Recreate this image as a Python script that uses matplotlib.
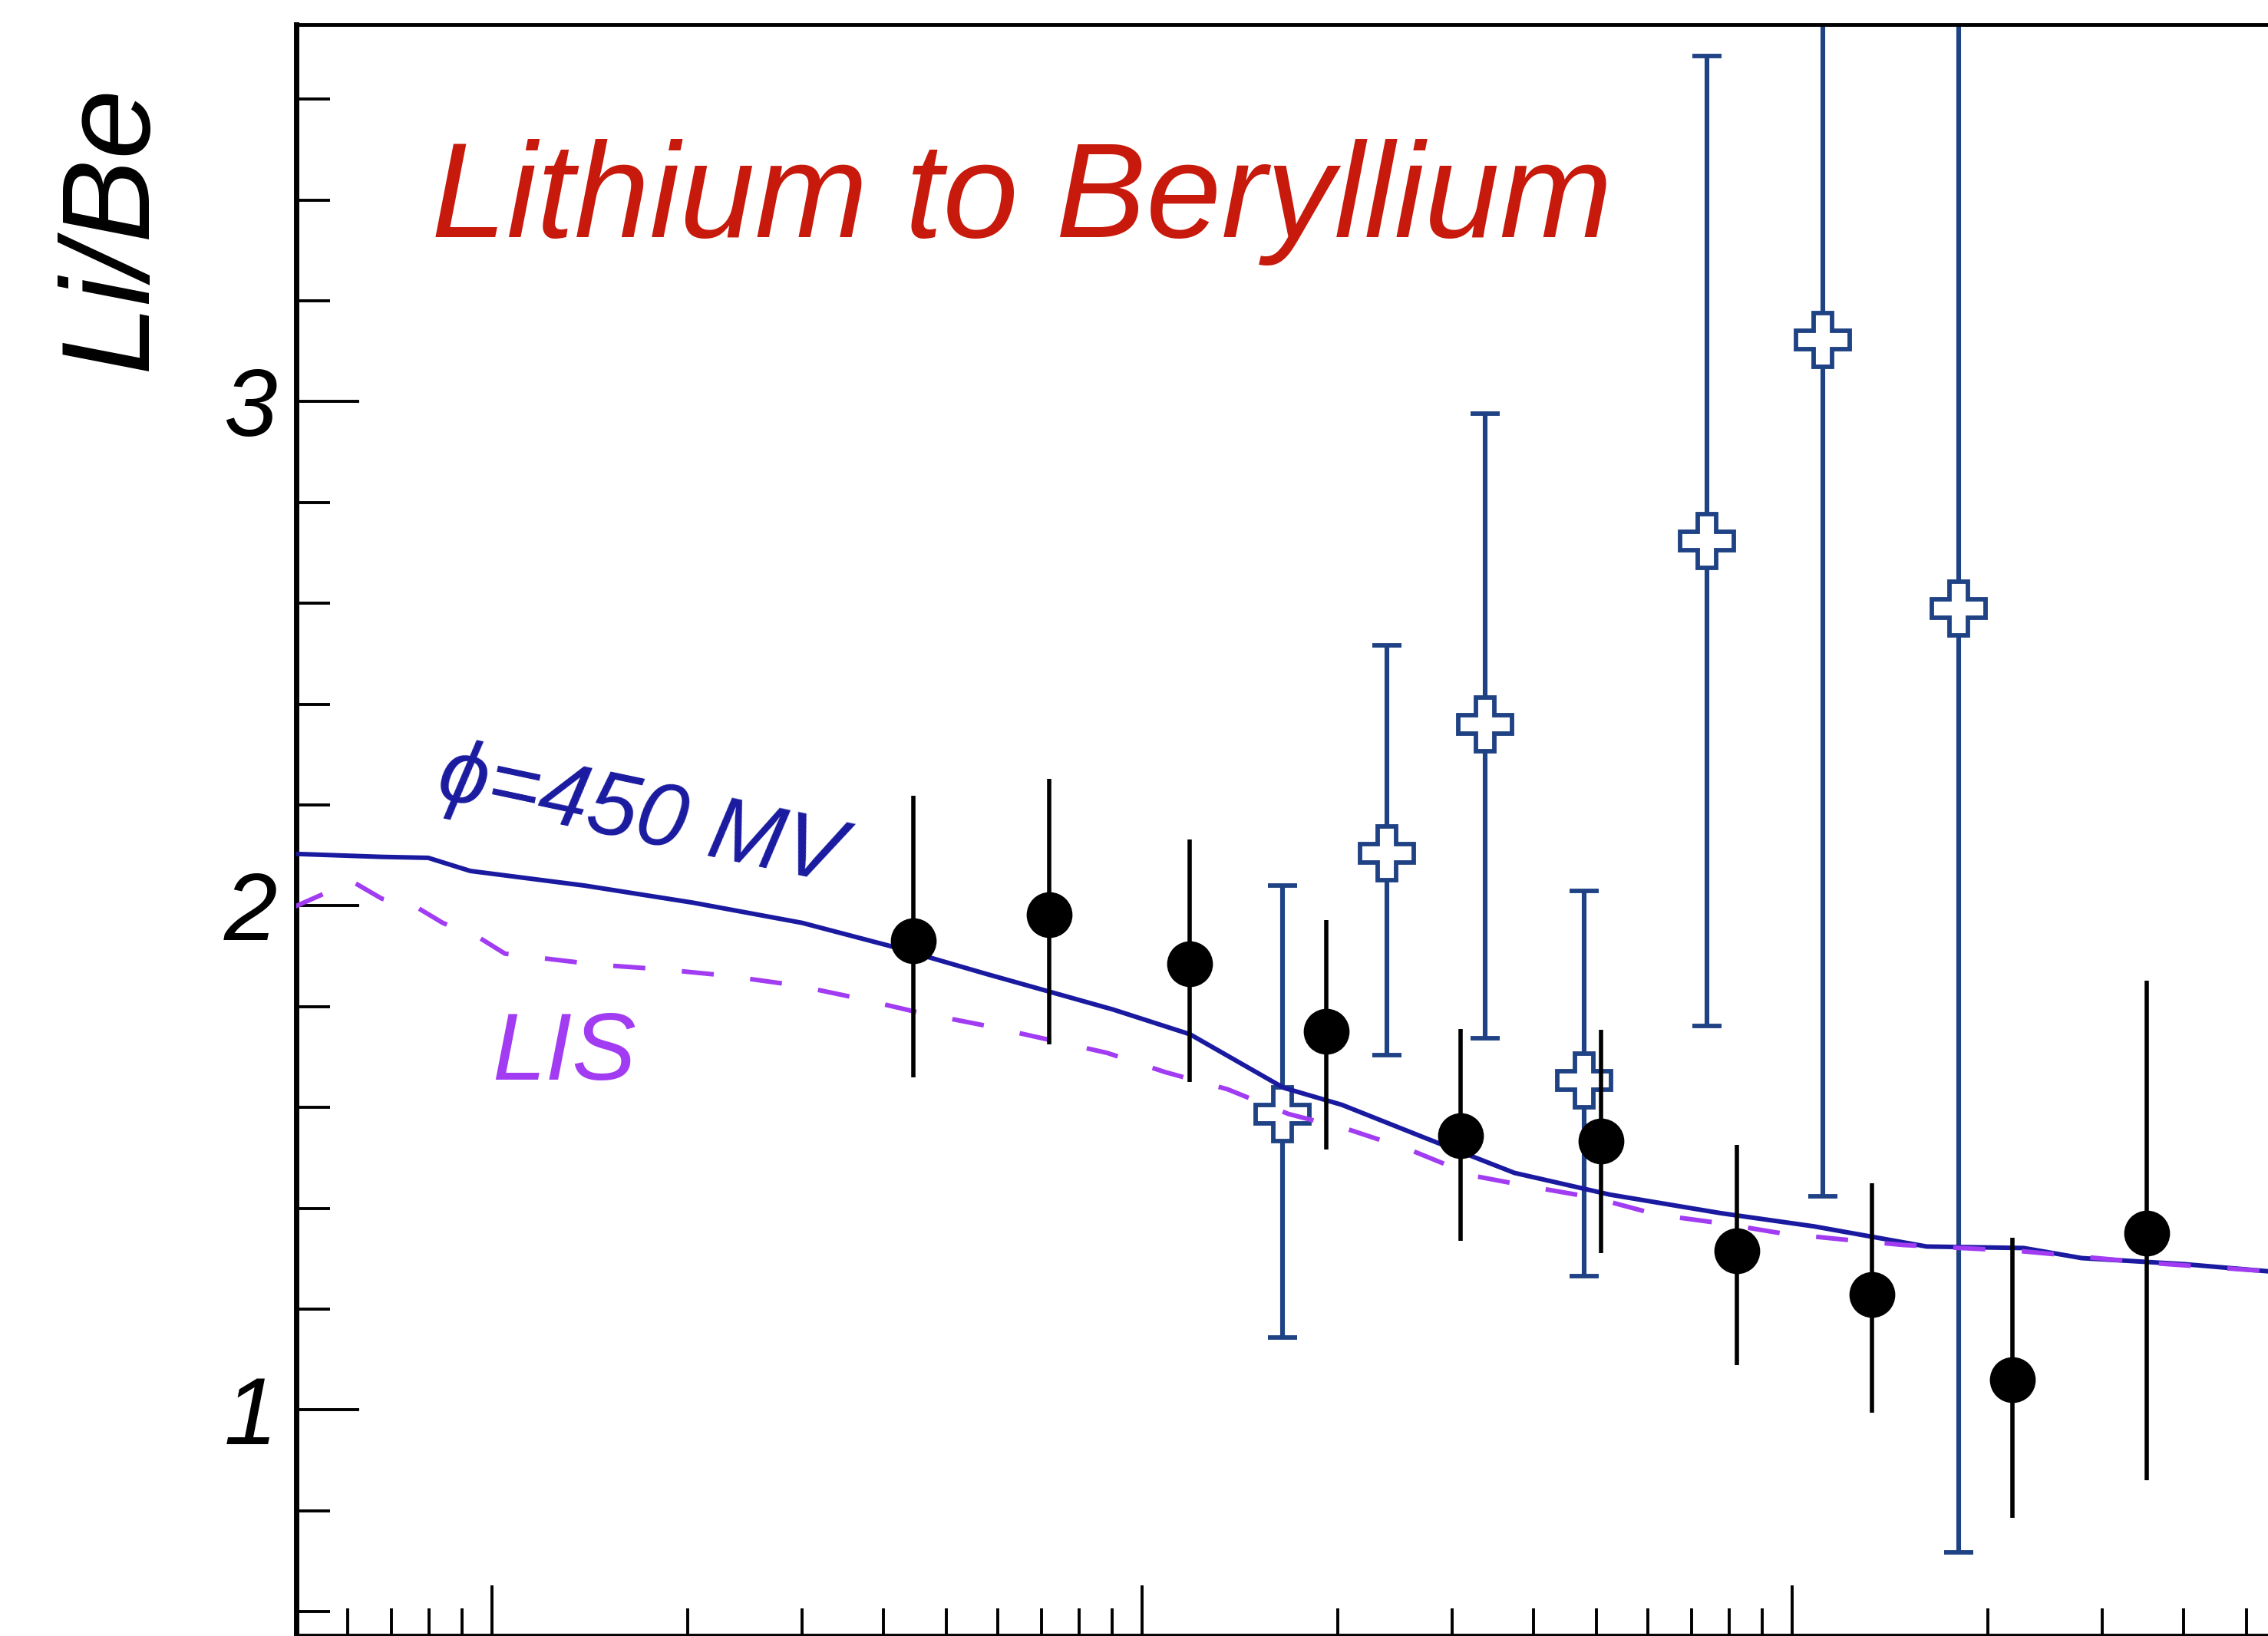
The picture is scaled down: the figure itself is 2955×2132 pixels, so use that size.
import matplotlib
matplotlib.use('Agg')
import matplotlib.pyplot as plt
from matplotlib.ticker import LogLocator, MultipleLocator, NullFormatter, FixedLocator

# Data (x: kinetic energy per nucleon, log scale; y: Li/Be ratio)
# black filled circles
pts_x = [4.45, 7.20, 11.85, 19.2, 30.9, 50.8, 82.3, 132.6, 218, 351]
pts_y = [1.931, 1.983, 1.885, 1.751, 1.544, 1.533, 1.315, 1.229, 1.060, 1.350]
pts_hi = [2.218, 2.252, 2.132, 1.971, 1.756, 1.754, 1.525, 1.450, 1.342, 1.851]
pts_lo = [1.659, 1.725, 1.650, 1.516, 1.335, 1.311, 1.089, 0.994, 0.786, 0.860]

# open blue crosses
crs_x = [16.44, 23.8, 33.7, 47.8, 73.9, 111.4, 180.4]
crs_y = [1.587, 2.104, 2.360, 1.653, 2.723, 3.123, 2.590]
crs_hi = [2.040, 2.517, 2.977, 2.029, 3.685, 4.30, 4.40]
crs_lo = [1.143, 1.703, 1.737, 1.266, 1.762, 1.424, 0.718]

# modulated model, phi = 450 MV
mod_x = [0.495, 0.674, 0.798, 0.926, 1.388, 2.04, 3.00, 4.10, 5.75, 9.03, 11.85, 16.5,
         20.3, 27.3, 37.4, 52.4, 77.8, 108, 161, 227, 279, 401, 538, 800]
mod_y = [2.103, 2.097, 2.095, 2.069, 2.040, 2.006, 1.966, 1.920, 1.865, 1.794, 1.745, 1.639,
         1.605, 1.539, 1.470, 1.427, 1.390, 1.364, 1.324, 1.321, 1.301, 1.289, 1.275, 1.255]

# local interstellar spectrum
lis_x = [0.495, 0.543, 0.608, 0.677, 0.766, 0.840, 0.955, 1.047, 1.178, 1.454, 1.822, 2.27,
         2.94, 3.64, 4.54, 5.75, 7.20, 8.84, 10.85, 13.53, 16.79, 20.8, 25.8, 32.4, 40.3,
         49.5, 62.1, 77.8, 96.5, 119.7, 148.4, 224, 351, 538, 800]
lis_y = [1.997, 2.020, 2.049, 2.014, 1.997, 1.966, 1.937, 1.905, 1.897, 1.883, 1.874, 1.862,
         1.842, 1.817, 1.788, 1.762, 1.734, 1.708, 1.670, 1.636, 1.587, 1.556, 1.516, 1.464,
         1.441, 1.421, 1.387, 1.370, 1.350, 1.338, 1.327, 1.315, 1.292, 1.275, 1.255]

y_major = [1, 2, 3]

fig = plt.figure(figsize=(29.55, 21.32), dpi=100)
ax = fig.add_axes([386 / 2955, 0.0005, (3100 - 386) / 2955, 1 - 32 / 2132 - 0.0005])

navy = '#1a1aa0'
purple = '#a13cf2'
steel = '#1f4285'

# blue crosses first (curves lie over them)
ax.errorbar(crs_x, crs_y,
            yerr=[[y - l for y, l in zip(crs_y, crs_lo)], [h - y for y, h in zip(crs_y, crs_hi)]],
            fmt='P', color=steel, ms=50, mfc='white', mec=steel, mew=4.2,
            elinewidth=4.4, capsize=14, capthick=4.4, zorder=2)

ax.plot(mod_x, mod_y, color=navy, lw=4.3, zorder=3)
ax.plot(lis_x, lis_y, color=purple, lw=4.3, linestyle=(0, (7, 8)), zorder=3)

ax.errorbar(pts_x, pts_y,
            yerr=[[y - l for y, l in zip(pts_y, pts_lo)], [h - y for y, h in zip(pts_y, pts_hi)]],
            fmt='o', color='black', ms=42, elinewidth=4.0, capsize=0, zorder=4)

ax.set_xscale('log')
ax.set_xlim(0.5, 800)
ax.set_ylim(0.553, 3.748)

ax.xaxis.set_major_locator(LogLocator(base=10, numticks=10))
ax.xaxis.set_minor_locator(LogLocator(base=10, subs=range(2, 10), numticks=20))
ax.xaxis.set_major_formatter(NullFormatter())
ax.xaxis.set_minor_formatter(NullFormatter())
ax.yaxis.set_major_locator(FixedLocator(y_major))
ax.yaxis.set_minor_locator(MultipleLocator(0.2))

ax.tick_params(axis='y', which='major', direction='in', length=59, width=2.8, pad=18,
               labelsize=90)
ax.tick_params(axis='y', which='minor', direction='in', length=32, width=2.8)
ax.tick_params(axis='x', which='major', direction='in', length=47, width=2.8)
ax.tick_params(axis='x', which='minor', direction='in', length=25, width=2.8)
for lab in ax.get_yticklabels():
    lab.set_fontfamily('Liberation Sans')
    lab.set_fontstyle('italic')

for sp in ax.spines.values():
    sp.set_linewidth(3.5)
ax.spines['left'].set_linewidth(5)

fam = ['Liberation Sans', 'DejaVu Sans']
ax.text(0.806, 3.327, 'Lithium to Beryllium', color='#c81a0c', fontsize=127,
        family=fam, style='italic', ha='left', va='baseline')
ax.text(0.815, 2.215, '\u03d5=450 MV', color=navy, fontsize=84, family=fam, style='italic',
        ha='left', va='baseline', rotation=-12, rotation_mode='anchor')
ax.text(1.0, 1.655, 'LIS', color=purple, fontsize=90, family=fam, style='italic',
        ha='left', va='baseline')

fig.text(147 / 2955, 1 - 110 / 2132, 'Li/Be', rotation=90, ha='center', va='top',
         fontsize=118, family=fam, style='italic')

fig.savefig('out.png', dpi=100)
